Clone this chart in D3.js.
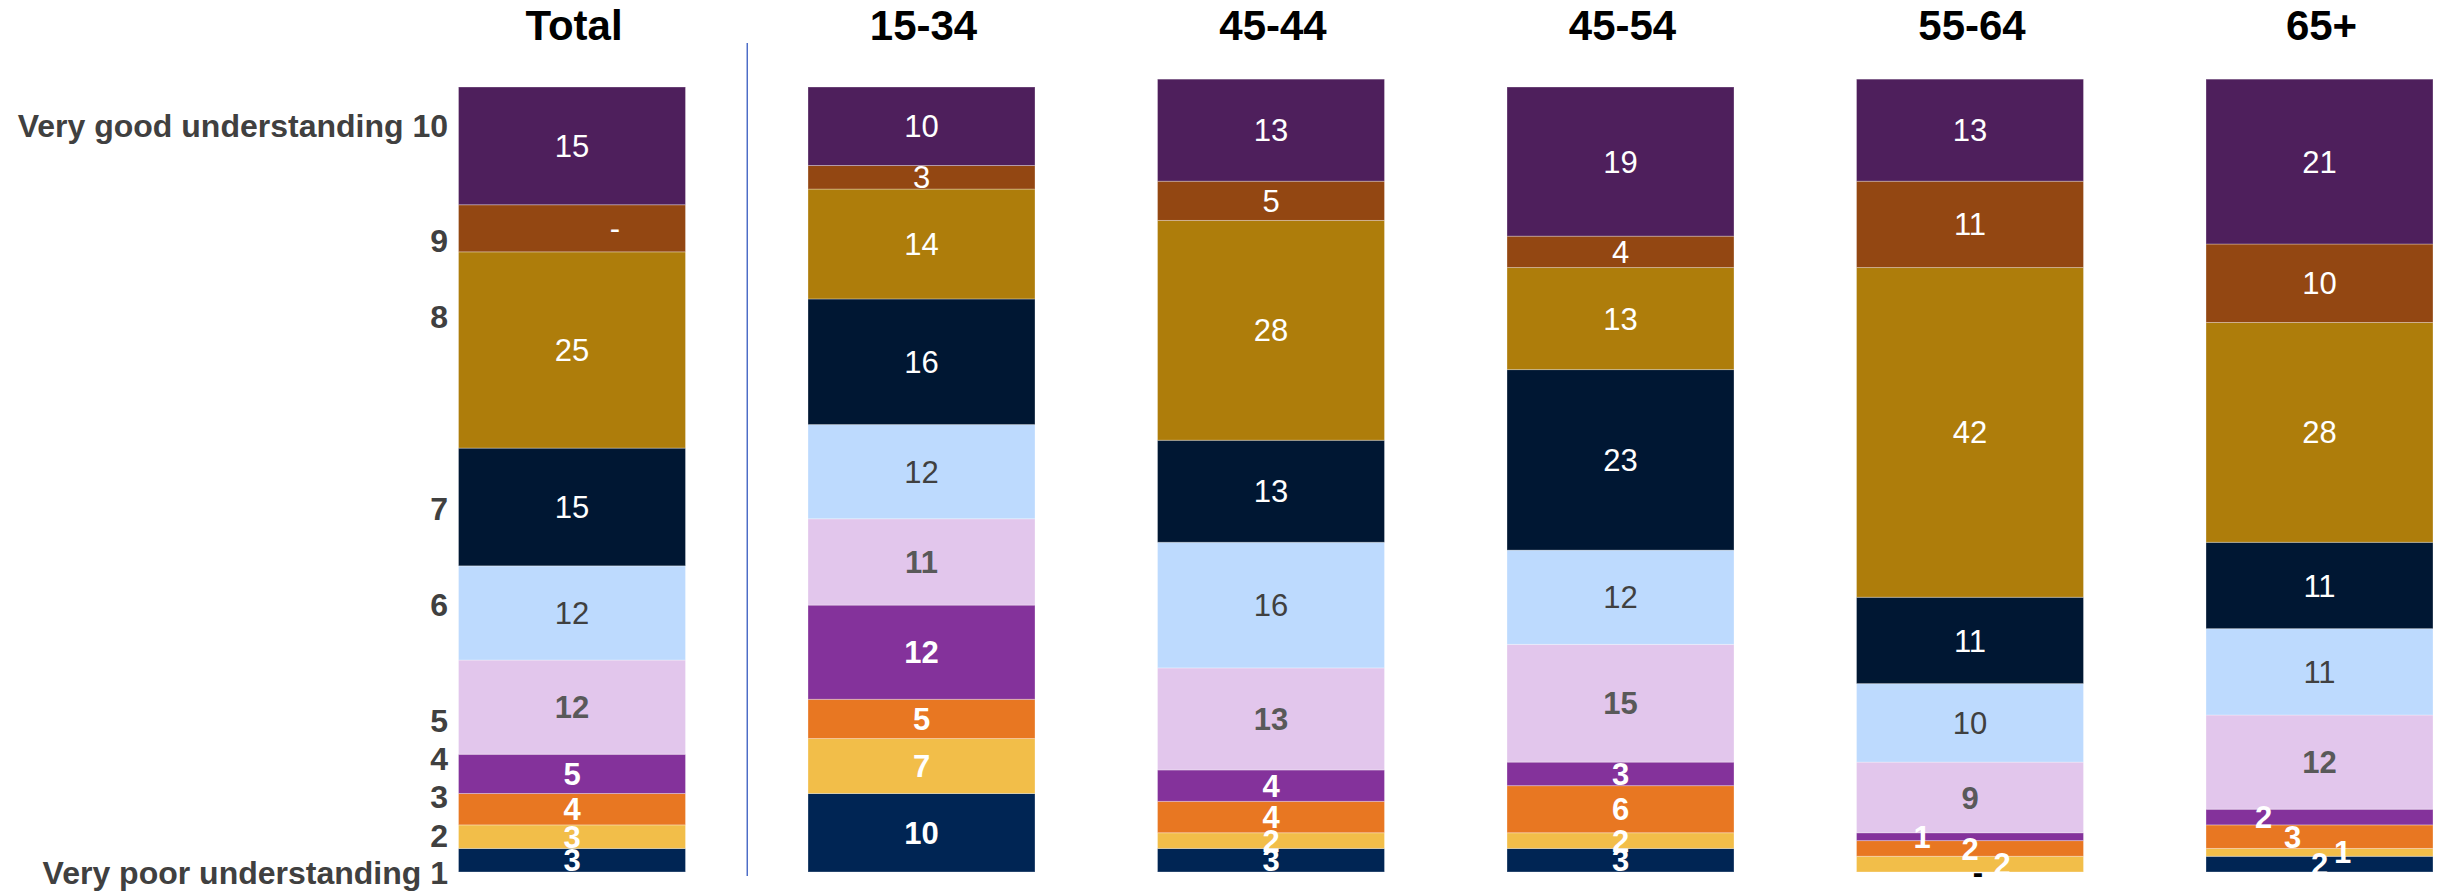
<!DOCTYPE html>
<html><head><meta charset="utf-8">
<script src="https://cdn.jsdelivr.net/npm/d3@7"></script>
<style>
body{margin:0;background:#fff}
svg{display:block}
text{font-family:"Liberation Sans",Arial,Helvetica,sans-serif}
</style>
</head><body>
<svg id="chart" width="2442" height="891"></svg>
<script>
// ---------- data ----------
const groups = ["Total", "15-34", "45-44", "45-54", "55-64", "65+"];
const levels = ["1", "2", "3", "4", "5", "6", "7", "8", "9", "10"]; // bottom -> top
const levelNames = ["Very poor understanding 1", "2", "3", "4", "5", "6", "7", "8", "9", "Very good understanding 10"];
const valuesTotal = [3, 3, 4, 5, 12, 12, 15, 25, 6, 15];
const values1534  = [10, 7, 5, 12, 11, 12, 16, 14, 3, 10];
const values4544  = [3, 2, 4, 4, 13, 16, 13, 28, 5, 13];
const values4554  = [3, 2, 6, 3, 15, 12, 23, 13, 4, 19];
const values5564  = [0, 2, 2, 1, 9, 10, 11, 42, 11, 13];
const values65    = [2, 1, 3, 2, 12, 11, 11, 28, 10, 21];
const labelOverrides = {"Total|9": "-", "55-64|1": "-"};

const levelColors = ["#002554", "#F2BE49", "#E87722", "#84329B", "#E2C6EC",
                     "#BDDAFE", "#001733", "#AE7D0B", "#934712", "#4E1F5C"];

// ---------- layout ----------
const W = 2442, H = 891;
const yBottom = 872, yTop = 87;
const labelColor = lvl => ({"5": "#595959", "6": "#404040"}[lvl] || "#ffffff");
const labelBold = lvl => ["1","2","3","4","5"].includes(lvl);
const labelColorOverride = {"55-64|1": "#000000"};
const labelNudgeX = {"Total|9": 43, "55-64|4": -48, "55-64|2": 32, "55-64|1": 8,
                     "65+|4": -56, "65+|3": -27, "65+|2": 23};
const axisLabelBaseline = [884, 847, 808, 770, 732, 616, 520, 328, 252, 137];

const seriesByGroup = [valuesTotal, values1534, values4544, values4554, values5564, values65];
const table = groups.map((g, i) => {
  const row = {group: g};
  levels.forEach((l, j) => row[l] = seriesByGroup[i][j]);
  return row;
});

const svg = d3.select("#chart");
svg.append("rect").attr("width", W).attr("height", H).attr("fill", "#fff");

const x = d3.scaleBand().domain(groups)
  .range([397.25, 2494.25]).paddingInner(0.3505).paddingOuter(0.17525);
const y = d3.scaleLinear().domain([0, 100]).range([yBottom, yTop]);

const stacked = d3.stack().keys(levels)(table);

const layer = svg.append("g").selectAll("g").data(stacked).join("g")
  .attr("fill", (d, i) => levelColors[i]);

layer.selectAll("rect").data(d => d.map(v => ({v, key: d.key}))).join("rect")
  .attr("x", d => x(d.v.data.group))
  .attr("width", x.bandwidth())
  .attr("y", d => y(d.v[1]))
  .attr("height", d => Math.max(0, y(d.v[0]) - y(d.v[1])))
  .attr("stroke", "rgba(255,255,255,0.3)")
  .attr("stroke-width", 1);

// value labels
const fs = 31;
const labels = [];
stacked.forEach(s => s.forEach(v => {
  const g = v.data.group, lvl = s.key, id = g + "|" + lvl;
  const val = v[1] - v[0];
  labels.push({
    text: labelOverrides[id] !== undefined ? labelOverrides[id] : String(val),
    cx: x(g) + x.bandwidth() / 2 + (labelNudgeX[id] || 0),
    cy: (y(v[0]) + y(v[1])) / 2,
    color: labelColorOverride[id] || labelColor(lvl),
    bold: labelBold(lvl) || id === "55-64|1"
  });
}));
svg.append("g").selectAll("text").data(labels).join("text")
  .attr("x", d => d.cx)
  .attr("y", d => d.cy + fs * 0.716 / 2)
  .attr("text-anchor", "middle")
  .attr("font-size", fs)
  .attr("font-weight", d => d.bold ? "bold" : "normal")
  .attr("fill", d => d.color)
  .text(d => d.text);

// headers
svg.append("g").selectAll("text").data(groups).join("text")
  .attr("x", d => x(d) + x.bandwidth() / 2 + 2)
  .attr("y", 40)
  .attr("text-anchor", "middle")
  .attr("font-size", 42)
  .attr("font-weight", "bold")
  .attr("fill", "#000")
  .text(d => d);

// y-axis labels
svg.append("g").selectAll("text").data(levelNames).join("text")
  .attr("x", 448)
  .attr("y", (d, i) => axisLabelBaseline[i])
  .attr("text-anchor", "end")
  .attr("font-size", 32)
  .attr("font-weight", "bold")
  .attr("fill", "#404040")
  .text(d => d);

// separator
const sepX = (x("Total") + x.bandwidth() + x("15-34")) / 2 + 0.5;
svg.append("line")
  .attr("x1", sepX).attr("x2", sepX).attr("y1", 43).attr("y2", 876)
  .attr("stroke", "#4466c4").attr("stroke-width", 1.4);
</script>
</body></html>
